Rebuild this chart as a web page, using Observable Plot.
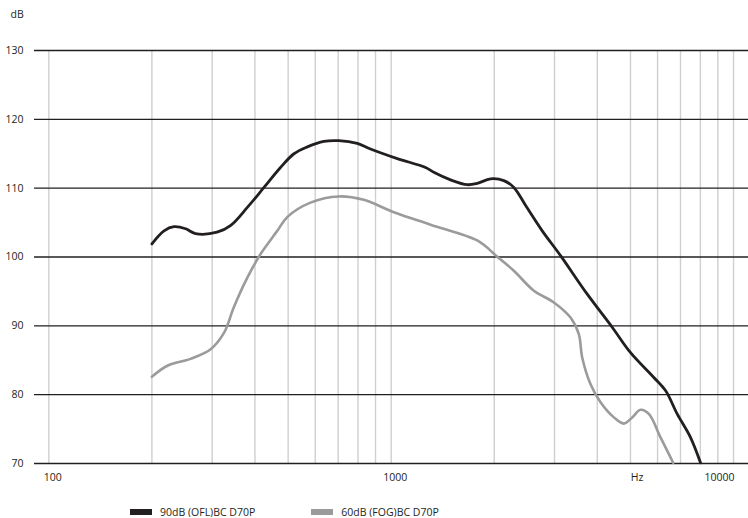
<!DOCTYPE html>
<html>
<head>
<meta charset="utf-8">
<script src="https://cdn.jsdelivr.net/npm/d3@7"></script>
<script src="https://cdn.jsdelivr.net/npm/@observablehq/plot@0.6"></script>
<style>
  body { margin: 0; background: #fff; font-family: "Open Sans", sans-serif; }
  #legend { display: flex; align-items: center; height: 10px; margin-top: 21px; font-size: 10.5px; color: #231f20; padding-left: 130px; }
  .item { display: flex; align-items: center; }
  .sw { width: 22px; height: 6px; margin-right: 8px; }
</style>
</head>
<body>
<div id="chart"></div>
<div id="legend"></div>
<script>
// Series names
const seriesNames = ["90dB (OFL)BC D70P", "60dB (FOG)BC D70P"];
const seriesColors = ["#231f20", "#9b9b9b"];

// 90dB (OFL) curve: frequency (Hz) and level (dB)
const blackFreq = [200, 217, 232, 251, 268, 310, 340, 380, 425, 475, 520, 569, 636, 703, 796, 870, 1042, 1260, 1332, 1491, 1668, 1784, 1951, 2133, 2282, 2476, 2762, 3124, 3739, 4422, 5003, 5851, 6329, 6846, 7486, 8009];
const blackDb   = [101.9, 103.8, 104.4, 104.1, 103.4, 103.6, 104.6, 107.2, 110.1, 113.0, 115.0, 116.0, 116.8, 116.9, 116.5, 115.7, 114.3, 113.0, 112.3, 111.2, 110.5, 110.7, 111.35, 111.1, 110.1, 107.4, 103.8, 100.2, 94.6, 89.8, 86.1, 82.5, 80.6, 77.2, 73.8, 70.1];

// 60dB (FOG) curve
const grayFreq = [200, 222, 259, 297, 325, 347, 380, 415, 465, 497, 581, 703, 832, 1018, 1303, 1784, 2041, 2282, 2611, 2987, 3341, 3532, 3614, 3823, 4088, 4472, 4782, 5060, 5351, 5657, 6120, 6667];
const grayDb   = [82.6, 84.2, 85.2, 86.6, 89.0, 92.7, 97.0, 100.4, 103.8, 105.8, 107.9, 108.8, 108.3, 106.5, 104.7, 102.4, 100.05, 98.0, 95.1, 93.4, 91.2, 88.8, 85.4, 81.5, 78.9, 76.7, 75.8, 76.7, 77.8, 77.2, 73.8, 70.1];

// Grid & ticks
const gridFreqs = [100, 200, 300, 400, 500, 600, 700, 800, 900, 1000, 2000, 3000, 4000, 5000, 6000, 7000, 8000, 9000, 10000];
const dbTicks = [70, 80, 90, 100, 110, 120, 130];
const xTickLabels = [100, 1000];
const xTickEnd = [10000];
const hzLabelFreq = [5230];

const black = blackFreq.map((f, i) => ({f, db: blackDb[i]}));
const gray = grayFreq.map((f, i) => ({f, db: grayDb[i]}));

const chart = Plot.plot({
  width: 748,
  height: 486,
  marginLeft: 34,
  marginRight: 0,
  marginTop: 50,
  marginBottom: 23,
  style: { fontFamily: "Open Sans, sans-serif", fontSize: "10.5px", color: "#231f20", background: "#fff" },
  x: { type: "log", domain: [90.8, 11060], axis: null },
  y: { domain: [70, 130], axis: null },
  marks: [
    Plot.ruleX(gridFreqs, { stroke: "#cfcfcf", strokeWidth: 1.4 }),
    Plot.ruleY(dbTicks, { stroke: "#231f20", strokeWidth: 1.4 }),
    Plot.line(gray, { x: "f", y: "db", stroke: seriesColors[1], strokeWidth: 2.6, curve: "catmull-rom" }),
    Plot.line(black, { x: "f", y: "db", stroke: seriesColors[0], strokeWidth: 2.8, curve: "catmull-rom" }),
    Plot.axisY(dbTicks, { tickSize: 0, tickPadding: 11, label: null, fill: "#231f20" }),
    Plot.axisX(xTickLabels, { tickSize: 0, tickPadding: 10, dx: 4, label: null, tickFormat: d => String(d), fill: "#231f20" }),
    Plot.axisX(xTickEnd, { tickSize: 0, tickPadding: 10, textAnchor: "end", dx: 1, label: null, tickFormat: d => String(d), fill: "#231f20" }),
    Plot.text(hzLabelFreq, { x: d => d, frameAnchor: "bottom", text: () => "Hz", dy: 14, lineAnchor: "middle", fill: "#231f20" }),
    Plot.text(["dB"], { frameAnchor: "top-left", text: d => d, dx: -24, dy: -36, textAnchor: "start", lineAnchor: "middle", fill: "#231f20" })
  ]
});
document.getElementById("chart").appendChild(chart);

const legend = document.getElementById("legend");
seriesNames.forEach((name, i) => {
  const item = document.createElement("div");
  item.className = "item";
  item.style.marginRight = i === 0 ? "56px" : "0";
  const sw = document.createElement("div");
  sw.className = "sw";
  sw.style.background = seriesColors[i];
  const t = document.createElement("span");
  t.textContent = name;
  item.appendChild(sw);
  item.appendChild(t);
  legend.appendChild(item);
});
</script>
</body>
</html>
